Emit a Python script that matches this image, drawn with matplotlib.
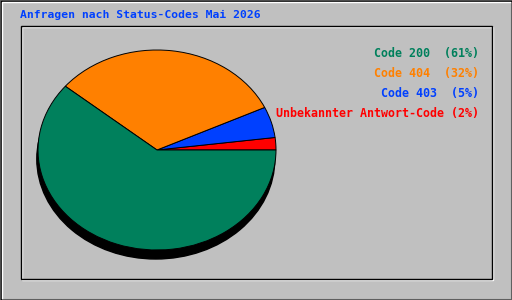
import matplotlib
matplotlib.use('Agg')
import matplotlib.pyplot as plt
from matplotlib.patches import Rectangle, Ellipse

# Daten (Reihenfolge gegen den Uhrzeigersinn ab 0 Grad)
labels = ['Unbekannter Antwort-Code', 'Code 403', 'Code 404', 'Code 200']
prozent = [2, 5, 32, 61]
farben = ['#ff0000', '#0040ff', '#ff8000', '#00805c']

# Legende oben rechts (von oben nach unten)
legende_text = ['Code 200  (61%)', 'Code 404  (32%)', 'Code 403  (5%)',
                'Unbekannter Antwort-Code (2%)']
legende_farben = ['#00805c', '#ff8000', '#0040ff', '#ff0000']

titel = 'Anfragen nach Status-Codes Mai 2026'

W, H = 512, 300
fig = plt.figure(figsize=(W / 100, H / 100), dpi=100, facecolor='#c0c0c0')

# Hintergrund-Achse in Pixelkoordinaten
bg = fig.add_axes([0, 0, 1, 1])
bg.set_xlim(0, W)
bg.set_ylim(H, 0)
bg.axis('off')

# Aeusserer Rahmen
bg.add_patch(Rectangle((0.5, 0.5), W - 1, H - 1, fill=False, edgecolor='#606060', lw=1.5))
bg.plot([0.5, 0.5, W - 1], [H - 1, 0.5, 0.5], color='black', lw=1)
bg.plot([1.5, 1.5, W - 2], [H - 2, 1.5, 1.5], color='white', lw=1)

# Innerer Rahmen
bg.add_patch(Rectangle((21.5, 26.5), 471, 253, fill=False, edgecolor='white', lw=1))
bg.add_patch(Rectangle((20.5, 25.5), 471, 253, fill=False, edgecolor='black', lw=1))

mono = 'DejaVu Sans Mono'
bg.text(20, 15, titel, color='#0040ff', fontsize=8.2, fontweight='bold',
        family=mono, ha='left', va='center')

for i, (txt, c) in enumerate(zip(legende_text, legende_farben)):
    bg.text(479, 54 + i * 20, txt, color=c, fontsize=8.4, fontweight='bold',
            family=mono, ha='right', va='center')

# Tortendiagramm (elliptisch)
cx, cy, rx, ry = 157, 150, 119, 100
pie_ax = fig.add_axes([(cx - rx) / W, (H - cy - ry) / H, 2 * rx / W, 2 * ry / H])
pie_ax.set_facecolor('none')

# Schatten / Tiefe
pie_ax.add_patch(Ellipse((-0.01, -0.09), 2, 2, facecolor='black', edgecolor='black',
                         clip_on=False, zorder=0))

wedges, _ = pie_ax.pie(prozent, colors=farben, startangle=0, counterclock=True,
                       radius=1, wedgeprops=dict(edgecolor='black', linewidth=0.7))
for w in wedges:
    w.set_zorder(2)
    w.set_clip_on(False)

pie_ax.set_aspect('auto')
pie_ax.set_xlim(-1, 1)
pie_ax.set_ylim(-1, 1)
pie_ax.axis('off')

fig.savefig('out.png', dpi=100, facecolor=fig.get_facecolor())
